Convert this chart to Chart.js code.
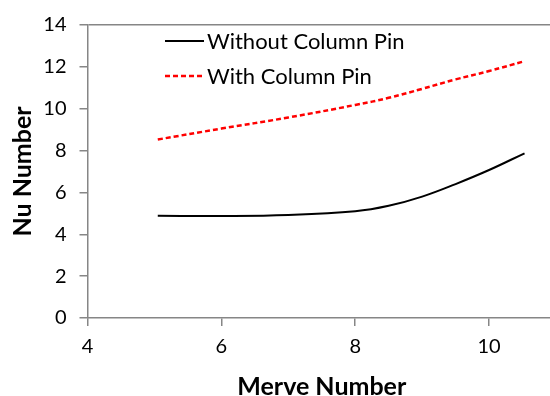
<!DOCTYPE html>
<html>
<head>
<meta charset="utf-8">
<script src="https://cdn.jsdelivr.net/npm/chart.js@4"></script>
<style>
  html, body { margin: 0; padding: 0; background: #ffffff; overflow: hidden; width: 550px; height: 396px; }
  #wrap { width: 556px; height: 396px; position: relative; }
</style>
</head>
<body>
<div id="wrap"><canvas id="c"></canvas></div>
<script>
// ---- data ----
const seriesNames = ["Without Column Pin", "With Column Pin"];
const xWithout = [5.05, 6, 7, 8, 8.5, 9, 9.5, 10, 10.53];
const yWithout = [4.88, 4.87, 4.92, 5.1, 5.36, 5.8, 6.4, 7.07, 7.87];
const xWith = [5.05, 6, 7, 8, 8.5, 9, 9.5, 10, 10.53];
const yWith = [8.53, 9.05, 9.58, 10.18, 10.52, 10.95, 11.4, 11.8, 12.27];
const xTicks = [4, 6, 8, 10];
const yTicks = [0, 2, 4, 6, 8, 10, 12, 14];
const xTitle = "Merve Number";
const yTitle = "Nu Number";

const toPts = (xs, ys) => xs.map((x, i) => ({ x: x, y: ys[i] }));
const AXIS = '#868686';
const NONE = 'rgba(0,0,0,0)';
const FONT = 'Lato';

const legendPlugin = {
  id: 'inlineLegend',
  afterDraw(chart) {
    const ctx = chart.ctx;
    const area = chart.chartArea;
    // keep the right side of the plot open (reference is cropped there)
    ctx.save();
    ctx.fillStyle = '#ffffff';
    ctx.fillRect(546, area.top + 1.5, 10, area.bottom - area.top - 3);
    ctx.restore();
    const rows = [41, 76];
    chart.data.datasets.forEach((ds, i) => {
      const y = rows[i];
      ctx.save();
      ctx.strokeStyle = ds.borderColor;
      ctx.lineWidth = ds.borderWidth;
      ctx.setLineDash(ds.borderDash || []);
      ctx.beginPath();
      ctx.moveTo(165, y);
      ctx.lineTo(204, y);
      ctx.stroke();
      ctx.setLineDash([]);
      ctx.fillStyle = '#000000';
      ctx.font = '22px ' + FONT;
      ctx.textBaseline = 'middle';
      ctx.textAlign = 'left';
      ctx.fillText(ds.label, 207, y + 1);
      ctx.restore();
    });
  }
};

new Chart(document.getElementById('c'), {
  type: 'line',
  data: {
    datasets: [
      { label: seriesNames[0], data: toPts(xWithout, yWithout), borderColor: '#000000', borderWidth: 2, pointRadius: 0, tension: 0.4, fill: false },
      { label: seriesNames[1], data: toPts(xWith, yWith), borderColor: '#ff0000', borderWidth: 2.5, borderDash: [5, 3], pointRadius: 0, tension: 0.4, fill: false }
    ]
  },
  options: {
    responsive: true,
    maintainAspectRatio: false,
    animation: false,
    layout: { padding: { top: 22.5, right: 0, bottom: 0, left: 0 } },
    plugins: { legend: { display: false }, tooltip: { enabled: false } },
    scales: {
      x: {
        type: 'linear',
        min: 4,
        max: 11,
        afterFit(s) { s.height = 78; },
        afterBuildTicks(s) { s.ticks = xTicks.map(v => ({ value: v })); },
        grid: { drawOnChartArea: false, tickLength: 8, color: NONE, tickColor: AXIS, lineWidth: 1.5 },
        border: { color: AXIS, width: 1.5 },
        ticks: { color: '#000000', font: { family: FONT, size: 20 }, padding: 9, maxRotation: 0 },
        title: { display: true, text: xTitle, color: '#000000', font: { family: FONT, size: 25, weight: 'bold', lineHeight: 1 }, padding: { top: 0, bottom: -3 } }
      },
      y: {
        type: 'linear',
        min: 0,
        max: 14,
        afterFit(s) { s.width = 87.5; },
        afterBuildTicks(s) { s.ticks = yTicks.map(v => ({ value: v })); },
        grid: { tickLength: 8, tickColor: AXIS, color: (c) => (c.tick && c.tick.value === 14) ? AXIS : NONE, lineWidth: 1.5 },
        border: { color: AXIS, width: 1.5 },
        ticks: { color: '#000000', font: { family: FONT, size: 20 }, padding: 13 },
        title: { display: true, text: yTitle, color: '#000000', font: { family: FONT, size: 25, weight: 'bold', lineHeight: 1 }, padding: { top: 10, bottom: 0 } }
      }
    }
  },
  plugins: [legendPlugin]
});
</script>
</body>
</html>
